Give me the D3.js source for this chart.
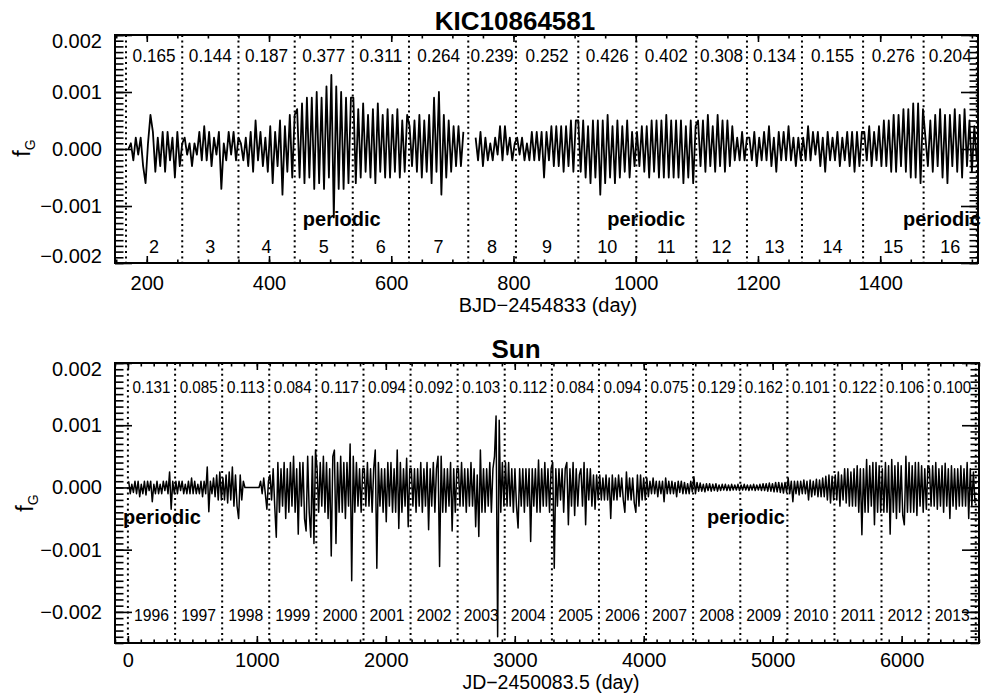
<!DOCTYPE html>
<html><head><meta charset="utf-8">
<script src="https://cdn.jsdelivr.net/npm/d3@7"></script>
<style>
body{margin:0;background:#fff}
text{font-family:"Liberation Sans",Arial,Helvetica,sans-serif;fill:#000}
</style></head><body><svg id="c" width="991" height="696"></svg>
<script>
// ---------------- DATA (values in units of 1e-4) ----------------
const UNIT = 1e-4;

// KIC10864581 : Kepler quarters 2..16, samples every 4 days from day 170
const kicStartDay = 170, kicStepDay = 4;
const kicValues = [
  0,1,-2,2,-1,2,-3,-6,1,6,3,-4,2,-3,3,-4,3,-2,2,-5,3,-3,1,            // Q2
  2,-1,1,-3,1,-1,3,-2,4,-2,3,-3,2,-1,3,-7,1,-2,3,-1,3,-2,2,           // Q3
  1,-2,2,-3,3,-4,5,-2,3,-3,2,-4,4,-6,3,-3,5,-8,4,-4,6,-5,6,           // Q4
  7,-5,8,-6,9,-5,9,-7,10,-6,9,-7,11,-5,13,-12,11,-7,10,-7,9,-6,9,     // Q5
  9,-6,7,-5,8,-4,6,-5,7,-6,8,-4,6,-5,7,-5,6,-4,7,-5,5,-4,6,           // Q6
  4,-3,5,-4,6,-5,5,-4,6,-6,9,-4,10,-8,6,-5,5,-4,4,-3,4,-3,3,          // Q7
  null,null,null,null,                                                // gap
  2,-2,3,-3,2,-2,1,-2,2,-1,4,-2,4,-1,2,-2,1,                          // Q8
  2,-1,2,-2,1,-2,3,-2,3,-2,3,-5,3,-2,4,-3,4,-3,4,-4,4,-3,5,-4,5,      // Q9
  5,-4,5,-5,4,-6,5,-5,5,-8,5,-6,6,-5,4,-6,5,-5,4,-4,5,-5,3,-3,        // Q10
  3,-3,4,-4,4,-5,5,-4,5,-5,5,-5,6,-5,5,-5,5,-5,5,-6,4,-5,5,-6,4,      // Q11
  5,-3,5,-4,6,-3,4,-4,6,-3,5,-4,5,-3,4,-2,2,-2,3,-2,2,                // Q12
  2,-2,3,-3,2,-2,3,-2,4,-3,2,-4,3,-2,3,-2,4,-2,2,-3,2,-2,             // Q13
  2,-2,4,-2,3,-1,3,-3,2,-4,3,-2,2,-2,3,-3,2,-2,3,-3,3,-4,3,-3,3,      // Q14
  3,-2,4,-3,3,-2,4,-3,5,-3,5,-4,6,-4,6,-3,7,-4,7,-5,8,-5,8,-6,7,      // Q15
  2,-3,5,-4,6,-3,7,-5,6,-6,6,-3,7,-4,6,-5,7,-3,5,-4,4,-2              // Q16
];
const kicQuarterLabels = ["2","3","4","5","6","7","8","9","10","11","12","13","14","15","16"];
const kicQuarterEdges = [166,258,350,442,537,629,726,804,906,1001,1099,1182,1272,1372,1471,1558];
const kicQuarterRatios = ["0.165","0.144","0.187","0.377","0.311","0.264","0.239","0.252","0.426","0.402","0.308","0.134","0.155","0.276","0.204"];
const kicPeriodicDays = [519, 1017, 1501];
const kicXTicks = [200,400,600,800,1000,1200,1400];
const kicYTicks = [-0.002,-0.001,0,0.001,0.002];
const kicYTickLabels = ["\u22120.002","\u22120.001","0.000","0.001","0.002"];

// Sun : 30 samples per year, 1996..2013
const sunYears = [1996,1997,1998,1999,2000,2001,2002,2003,2004,2005,2006,2007,2008,2009,2010,2011,2012,2013];
const sunYearRatios = ["0.131","0.085","0.113","0.084","0.117","0.094","0.092","0.103","0.112","0.084","0.094","0.075","0.129","0.162","0.101","0.122","0.106","0.100"];
const sunSamplesPerYear = 30;
const sunValues = [
  1,-1,0.5,-0.8,1,-1,1,-1.5,0.5,-1,1,-1.2,1,-0.5,1,-2.3,0.5,-1,1,-1,0.5,-1,1,-0.5,1,-1,2.5,-3.5,1,-1,          // 1996
  1,-1,1,-0.5,1,-1,0.5,-1,1,-1,1.5,-1,1,-1,0.5,-1,1,-1.5,1,-1,3.3,-3.9,1,-1,1.5,-1.5,2,-2,2.5,-2,             // 1997
  1.5,-2,2,-2.5,2.5,-2,3.3,-3,2,-3,-5,2,-2,1,0,0,0,0,0,0,0,0,0,0,1,-1,1.5,-1,-3.5,1,                          // 1998
  2,-2,3,-3,-8,4,-4,3,-3,4,-5,3,-4,4,-3,5,-4,3,-7.5,4,-3,4,-5,-7,5,-4,-8,5,-9,6,                              // 1999
  3,-4,4,-3,5,-4,4,-5,3,-11,5,6,-9,4,-4,5,-4,4,-5,4,-3,7,-15,5,-4,4,-3,3,-4,3,                                // 2000
  3,-3,4,-3,3,-4,3,6,-13,4,-3,3,-4,3,-5.5,4,-3,4,-4,3,-4,6,-6.6,4,-4,3,-3,4.7,-6.3,3,                         // 2001
  3,-3,3,-4,3,-3,4,-4,3,-3,4,-6.8,3,-3,4,-4,3,5,-12.7,5,-4,3,-4,3,-3,4,-7,3,-4,3,                             // 2002
  3,-3,4,-3,3,-4,3,-3,4,-3,3,-6.3,2,-7.9,6,-4,3,-4,3,-3,4,-4,3,5,11.5,-24,10.8,-4,4,-3,                       // 2003
  4,-3,4,-3,3,-4,3,-3,-6.5,3,-3,3,-4,3,-3,3,-8.7,3,-3,3,-4,4.4,-4,3,-3,4,-3,3,-4,3,                           // 2004
  4,-13,3,-3,3,-2,3,-4,3,4,-6,3,-3,4,-4.5,3,-3,2,3,-3,4,-6,3,-2,3,-3,2,-3.5,2,-2,                             // 2005
  2,-2,1.5,-2,2,-2,1.5,-5,2,-2,1.5,-2,2,-1.5,1.5,-2,-4,2.5,-2,1.5,-2,1.5,-2.5,-4,2,-3,2,-2,1.5,-2,            // 2006
  1.5,-1.5,1,-1,1.5,-1,1,-1.5,1,-1,1,-2.3,1.5,-1,1,-1,1,-1,0.8,-1.5,1,-0.8,1,-1,0.8,-1,0.6,-1,1,-0.7,         // 2007
  1.7,-1,0.8,-0.6,0.7,-0.6,0.5,-0.7,0.6,-0.5,0.6,-0.6,0.5,-0.5,0.6,-0.6,0.4,-0.5,0.5,-0.4,0.5,-0.5,0.4,-0.5,0.5,-0.4,0.4,-0.4,0.5,-0.5, // 2008
  0.4,-0.4,0.5,-0.4,0.4,-0.5,0.4,-0.4,0.5,-0.5,0.4,-0.4,0.5,-0.5,0.6,-0.5,0.6,-0.6,0.7,-0.6,0.6,-0.7,0.8,-0.7,0.8,-0.8,0.7,-0.9,0.8,-0.8, // 2009
  1.5,-1,1,-2.3,1,-1,1,-1.2,1,-1,1.2,-1,1,-2,1.2,-1.5,1,-1.2,1.3,-1.5,1.2,-1.5,1.5,-1.5,1.8,-2,2,-2.5,1.8,-2, // 2010
  2,-2,2.5,-3,2,-2,3,-2.5,3,-3,2.5,-3,3,-3,3.5,-4,3,-7.6,3,-4,4.5,-4,3.5,-3,4,-6,4,-4,3.5,-4,                 // 2011
  3,-4,4,-4,3.5,-7.5,4.5,-4,3.5,-5,4,-4,3.5,-4.5,-6,5,-4,4,-4,3.5,-4,4,-4.5,4,-3,3.5,-4,3,-3.5,3.5,           // 2012
  3,-3,3.5,-3,4,-3.5,3,-3,3.5,-4,3.9,-3,3,-5,3.5,-3,3,-3.5,3,-3,3.5,-3,3,-3,4,-5,3,-3,2.5,-2.5                // 2013
];
const sunPeriodicDays = [264, 4793];
const sunXTicks = [0,1000,2000,3000,4000,5000,6000];
const sunYTicks = [-0.002,-0.001,0,0.001,0.002];
const sunYTickLabels = ["\u22120.002","\u22120.001","0.000","0.001","0.002"];

// ---------------- BUILD ----------------
const kicPoints = kicValues.map((v,i)=>({t: kicStartDay + i*kicStepDay, v: v===null ? null : v*UNIT}));
const dayOf = yr => (Date.UTC(yr,0,1) - Date.UTC(1996,0,1)) / 86400000;
const sunEdges = sunYears.concat([sunYears[sunYears.length-1]+1]).map(dayOf);
const sunPoints = sunValues.map((v,i)=>{
  const yi = Math.floor(i / sunSamplesPerYear), k = i % sunSamplesPerYear;
  const a = sunEdges[yi], b = sunEdges[yi+1];
  return {t: a + (k+0.5)*(b-a)/sunSamplesPerYear, v: v*UNIT};
});

const svg = d3.select("#c");
svg.append("rect").attr("width",991).attr("height",696).attr("fill","#fff");
const FONT = '"Liberation Sans",Arial,Helvetica,sans-serif';

function styleAxis(a, fs){
  a.attr("font-family", FONT).attr("font-size", fs);
  a.select(".domain").remove();
  a.selectAll(".tick line").attr("stroke","#000").attr("stroke-width",1.6);
  a.selectAll(".tick text").attr("fill","#000");
}

function drawPanel(c){
  const x = d3.scaleLinear().domain(c.xDomain).range([c.left, c.right]);
  const y = d3.scaleLinear().domain(c.yDomain).range([c.bottom, c.top]);
  const g = svg.append("g");
  const clipId = "clip-" + c.id;
  svg.append("clipPath").attr("id", clipId).append("rect")
    .attr("x", c.left).attr("y", c.top).attr("width", c.right-c.left).attr("height", c.bottom-c.top);

  // series
  const line = d3.line().defined(d => d.v !== null).x(d => x(d.t)).y(d => y(d.v));
  g.append("path").datum(c.points).attr("clip-path", `url(#${clipId})`)
    .attr("fill","none").attr("stroke","#000").attr("stroke-width", c.lineWidth)
    .attr("stroke-linejoin","round").attr("d", line);

  // dotted separators
  g.append("g").selectAll("line").data(c.edges).join("line")
    .attr("x1", d=>x(d)).attr("x2", d=>x(d)).attr("y1", c.top).attr("y2", c.bottom)
    .attr("stroke","#000").attr("stroke-width",2).attr("stroke-dasharray","2 3.4");

  // labels in the cells
  const mids = c.edges.slice(0,-1).map((e,i)=>(e + c.edges[i+1])/2);
  g.append("g").selectAll("text").data(c.topLabels).join("text")
    .attr("x",(d,i)=>x(mids[i])).attr("y", c.topLabelY).attr("text-anchor","middle")
    .attr("font-size", c.topLabelFs)
    .each(function(){ if(c.topLabelLen) d3.select(this).attr("textLength", c.topLabelLen).attr("lengthAdjust","spacingAndGlyphs"); })
    .text(d=>d);
  g.append("g").selectAll("text").data(c.bottomLabels).join("text")
    .attr("x",(d,i)=>x(mids[i])).attr("y", c.bottomLabelY).attr("text-anchor","middle")
    .attr("font-size", c.bottomLabelFs)
    .each(function(){ if(c.bottomLabelLen) d3.select(this).attr("textLength", c.bottomLabelLen).attr("lengthAdjust","spacingAndGlyphs"); })
    .text(d=>d);
  g.append("g").selectAll("text").data(c.periodic).join("text")
    .attr("x", d=>x(d)).attr("y", c.periodicY).attr("text-anchor","middle")
    .attr("font-size",20).attr("font-weight","bold").text("periodic");

  // axes: major + minor, inward ticks
  const xMinor = d3.range(c.xMinor[0], c.xDomain[1]+1e-9, c.xMinor[1]);
  const yMinor = d3.range(Math.round(c.yDomain[0]/c.yMinorStep), Math.round(c.yDomain[1]/c.yMinorStep)+1).map(k=>k*c.yMinorStep);

  let a;
  a = g.append("g").attr("transform",`translate(0,${c.bottom})`)
    .call(d3.axisBottom(x).tickValues(c.xTicks).tickSize(-c.xMajorLen).tickPadding(c.xPad).tickFormat(d3.format("d")));
  styleAxis(a, 20);
  a = g.append("g").attr("transform",`translate(0,${c.bottom})`)
    .call(d3.axisBottom(x).tickValues(xMinor).tickSize(-c.xMajorLen/2).tickFormat(""));
  styleAxis(a, 20);
  a = g.append("g").attr("transform",`translate(0,${c.top})`)
    .call(d3.axisTop(x).tickValues(c.xTicks).tickSize(-c.xMajorLen).tickFormat(""));
  styleAxis(a, 20);
  a = g.append("g").attr("transform",`translate(0,${c.top})`)
    .call(d3.axisTop(x).tickValues(xMinor).tickSize(-c.xMajorLen/2).tickFormat(""));
  styleAxis(a, 20);

  a = g.append("g").attr("transform",`translate(${c.left},0)`)
    .call(d3.axisLeft(y).tickValues(c.yTicks).tickSize(-c.yMajorLen).tickPadding(13).tickFormat((d,i)=>c.yTickLabels[i]));
  styleAxis(a, 20);
  a.selectAll(".tick text").attr("transform", d =>
      Math.abs(d - c.yDomain[1]) < 1e-12 ? "translate(0,6.5)" :
      Math.abs(d - c.yDomain[0]) < 1e-12 ? "translate(0,-6.5)" : null);
  a = g.append("g").attr("transform",`translate(${c.left},0)`)
    .call(d3.axisLeft(y).tickValues(yMinor).tickSize(-c.yMajorLen/2).tickFormat(""));
  styleAxis(a, 20);
  a = g.append("g").attr("transform",`translate(${c.right},0)`)
    .call(d3.axisRight(y).tickValues(c.yTicks).tickSize(-c.yMajorLen).tickFormat(""));
  styleAxis(a, 20);
  a = g.append("g").attr("transform",`translate(${c.right},0)`)
    .call(d3.axisRight(y).tickValues(yMinor).tickSize(-c.yMajorLen/2).tickFormat(""));
  styleAxis(a, 20);

  // frame
  g.append("rect").attr("x",c.left).attr("y",c.top).attr("width",c.right-c.left).attr("height",c.bottom-c.top)
    .attr("fill","none").attr("stroke","#000").attr("stroke-width",2);

  // titles
  g.append("text").attr("x", c.titleX).attr("y", c.titleY).attr("text-anchor","middle")
    .attr("font-size",26).attr("font-weight","bold").text(c.title);
  g.append("text").attr("x", c.xTitleX).attr("y", c.xTitleY).attr("text-anchor","middle")
    .attr("font-size",c.xTitleFs).text(c.xTitle);
  const yl = g.append("text").attr("transform",`translate(${c.yLabelX},${c.yLabelY}) rotate(-90)`)
    .attr("text-anchor","middle").attr("font-size",23);
  yl.append("tspan").text("f");
  yl.append("tspan").attr("font-size",14).attr("dy",5).text("G");
}

drawPanel({
  id:"kic", title:"KIC10864581", titleX:515, titleY:30,
  xTitle:"BJD\u22122454833 (day)", xTitleX:548, xTitleY:312, xTitleFs:20,
  yLabelX:30, yLabelY:148,
  left:115, right:978, top:35, bottom:263,
  xDomain:[148,1560], yDomain:[-0.002,0.002],
  xTicks:kicXTicks, xMinor:[150,50], xMajorLen:7, xPad:13,
  yTicks:kicYTicks, yTickLabels:kicYTickLabels, yMinorStep:1e-4, yMajorLen:17,
  points:kicPoints, lineWidth:1.8, edges:kicQuarterEdges,
  topLabels:kicQuarterRatios, topLabelY:62, topLabelFs:18, topLabelLen:43,
  bottomLabels:kicQuarterLabels, bottomLabelY:253, bottomLabelFs:18,
  periodic:kicPeriodicDays, periodicY:226
});

drawPanel({
  id:"sun", title:"Sun", titleX:516, titleY:358,
  xTitle:"JD\u22122450083.5 (day)", xTitleX:551, xTitleY:689, xTitleFs:19.5,
  yLabelX:33, yLabelY:503,
  left:115, right:979, top:363, bottom:643,
  xDomain:[-100,6600], yDomain:[-0.0025,0.002],
  xTicks:sunXTicks, xMinor:[-100,100], xMajorLen:7, xPad:10,
  yTicks:sunYTicks, yTickLabels:sunYTickLabels, yMinorStep:1e-4, yMajorLen:17,
  points:sunPoints, lineWidth:1.5, edges:sunEdges,
  topLabels:sunYearRatios, topLabelY:393, topLabelFs:17, topLabelLen:38,
  bottomLabels:sunYears.map(String), bottomLabelY:621, bottomLabelFs:17, bottomLabelLen:35,
  periodic:sunPeriodicDays, periodicY:524
});
</script></body></html>
